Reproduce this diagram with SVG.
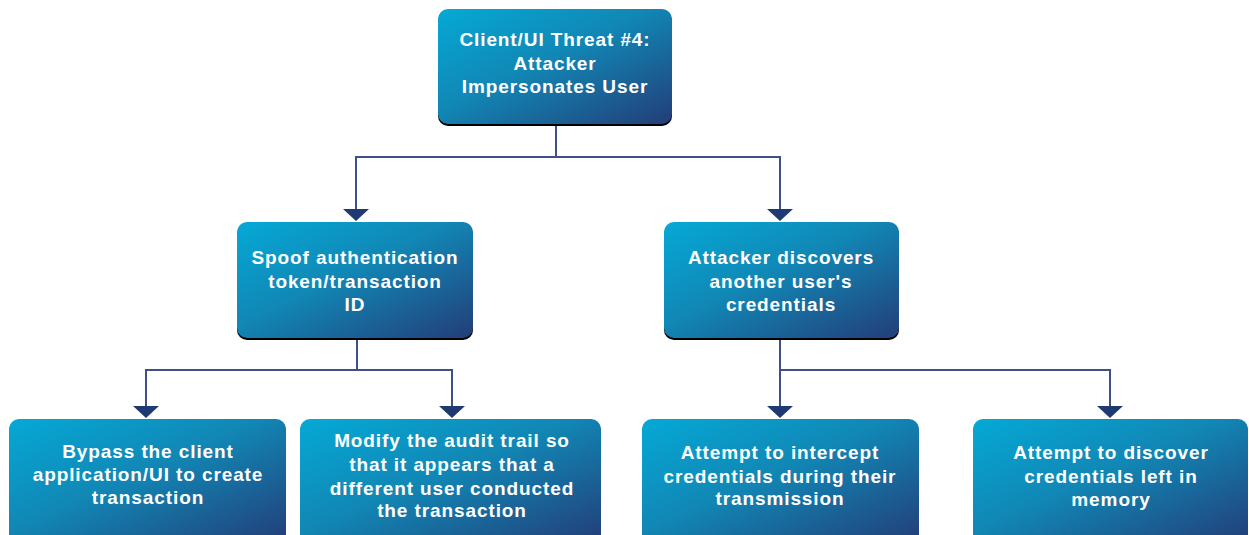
<svg xmlns="http://www.w3.org/2000/svg" width="1249" height="535" viewBox="0 0 1249 535">
<defs>
<linearGradient id="g" x1="0" y1="0" x2="1" y2="1">
<stop offset="0" stop-color="#05a9d6"/>
<stop offset="0.45" stop-color="#1187b5"/>
<stop offset="1" stop-color="#233d78"/>
</linearGradient>
<style>
.box{fill:url(#g);}
.sh{fill:#000;}
.t{fill:#fff;font-family:"Liberation Sans",Arial,sans-serif;font-weight:bold;font-size:19px;letter-spacing:0.9px;text-anchor:middle;}
.c{fill:none;stroke:#3d5088;stroke-width:2;}
.a{fill:#1f3a73;}
</style>
</defs>
<rect width="1249" height="535" fill="#fff"/>
<g id="connectors">
<path class="c" d="M556,126 V157 H356 V209"/>
<path class="c" d="M556,157 H780 V209"/>
<path class="a" d="M343,209 h26 l-13,12 z"/>
<path class="a" d="M767,209 h26 l-13,12 z"/>
<path class="c" d="M357,340 V370 H146 V406"/>
<path class="c" d="M357,370 H452 V406"/>
<path class="a" d="M133,406 h26 l-13,12 z"/>
<path class="a" d="M439,406 h26 l-13,12 z"/>
<path class="c" d="M780,340 V406"/>
<path class="c" d="M780,370 H1110 V406"/>
<path class="a" d="M767,406 h26 l-13,12 z"/>
<path class="a" d="M1097,406 h26 l-13,12 z"/>
</g>
<g id="n0">
<rect class="sh" x="438" y="11" width="234" height="115" rx="10"/>
<rect class="box" x="438" y="9" width="234" height="115" rx="10"/>
<text class="t" x="555" y="46">Client/UI Threat #4:</text>
<text class="t" x="555" y="70">Attacker</text>
<text class="t" x="555" y="93">Impersonates User</text>
</g>
<g id="n1">
<rect class="sh" x="237" y="224" width="236" height="116" rx="10"/>
<rect class="box" x="237" y="222" width="236" height="116" rx="10"/>
<text class="t" x="355" y="264">Spoof authentication</text>
<text class="t" x="355" y="288">token/transaction</text>
<text class="t" x="355" y="311">ID</text>
</g>
<g id="n2">
<rect class="sh" x="664" y="224" width="235" height="116" rx="10"/>
<rect class="box" x="664" y="222" width="235" height="116" rx="10"/>
<text class="t" x="781" y="264">Attacker discovers</text>
<text class="t" x="781" y="288">another user's</text>
<text class="t" x="781" y="311">credentials</text>
</g>
<g id="n3">
<rect class="sh" x="9" y="421" width="277" height="125" rx="10"/>
<rect class="box" x="9" y="419" width="277" height="125" rx="10"/>
<text class="t" x="148" y="458">Bypass the client</text>
<text class="t" x="148" y="481">application/UI to create</text>
<text class="t" x="148" y="504">transaction</text>
</g>
<g id="n4">
<rect class="sh" x="300" y="421" width="301" height="125" rx="10"/>
<rect class="box" x="300" y="419" width="301" height="125" rx="10"/>
<text class="t" x="452" y="447">Modify the audit trail so</text>
<text class="t" x="452" y="471">that it appears that a</text>
<text class="t" x="452" y="495">different user conducted</text>
<text class="t" x="452" y="517">the transaction</text>
</g>
<g id="n5">
<rect class="sh" x="642" y="421" width="277" height="125" rx="10"/>
<rect class="box" x="642" y="419" width="277" height="125" rx="10"/>
<text class="t" x="780" y="459">Attempt to intercept</text>
<text class="t" x="780" y="483">credentials during their</text>
<text class="t" x="780" y="505">transmission</text>
</g>
<g id="n6">
<rect class="sh" x="973" y="421" width="275" height="125" rx="10"/>
<rect class="box" x="973" y="419" width="275" height="125" rx="10"/>
<text class="t" x="1111" y="459">Attempt to discover</text>
<text class="t" x="1111" y="483">credentials left in</text>
<text class="t" x="1111" y="506">memory</text>
</g>
</svg>
